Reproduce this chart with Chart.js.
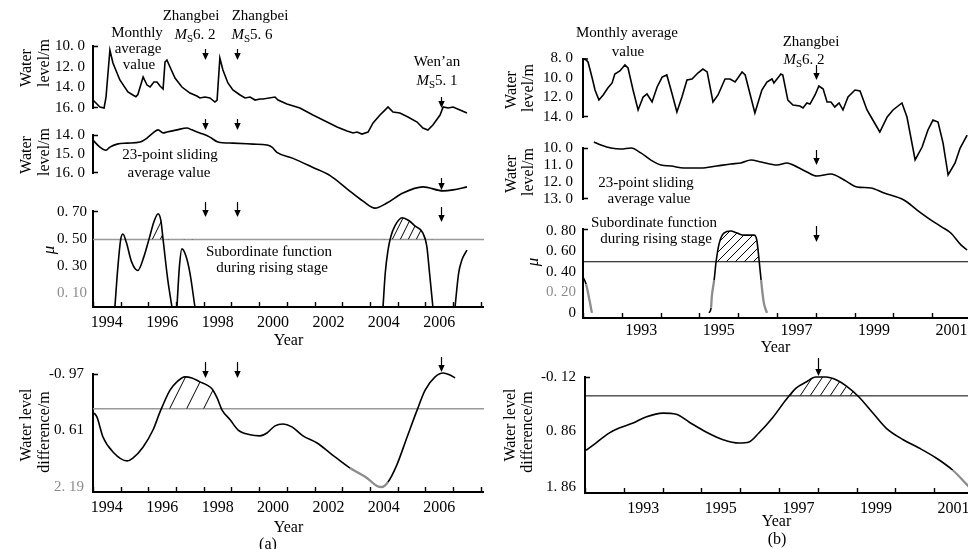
<!DOCTYPE html>
<html>
<head>
<meta charset="utf-8">
<script src="https://cdn.jsdelivr.net/npm/chart.js@4.4.0/dist/chart.umd.min.js"></script>
<style>
    html, body { margin: 0; padding: 0; background: #fff; }
    #page { position: relative; width: 968px; height: 549px; overflow: hidden; background: #fff; }
    #page canvas { position: absolute; top: 0; }
</style>
</head>
<body>
<div id="page">
    <canvas id="a1" width="484" height="549" style="left:0"></canvas>
    <canvas id="a2" width="484" height="549" style="left:0"></canvas>
    <canvas id="a3" width="484" height="549" style="left:0"></canvas>
    <canvas id="a4" width="484" height="549" style="left:0"></canvas>
    <canvas id="b1" width="484" height="549" style="left:484px"></canvas>
    <canvas id="b2" width="484" height="549" style="left:484px"></canvas>
    <canvas id="b3" width="484" height="549" style="left:484px"></canvas>
    <canvas id="b4" width="484" height="549" style="left:484px"></canvas>
</div>
<script>
// ---- data: [year, value] ----

// (a) monthly average water level (m)
const monthlyA = [
    [1994.00, 15.23], [1994.25, 15.90], [1994.40, 16.00], [1994.47, 14.94], [1994.61, 10.39],
    [1994.72, 11.65], [1994.97, 13.29], [1995.26, 14.45], [1995.44, 14.74], [1995.55, 14.90],
    [1995.62, 14.70], [1995.81, 13.00], [1995.95, 13.78], [1996.06, 13.97], [1996.20, 13.48],
    [1996.31, 13.48], [1996.42, 13.87], [1996.53, 14.16], [1996.60, 11.55], [1996.67, 11.36],
    [1996.78, 12.03], [1996.96, 13.10], [1997.21, 13.97], [1997.50, 14.55], [1997.75, 14.84],
    [1997.86, 15.03], [1998.04, 14.94], [1998.22, 15.03], [1998.40, 15.42], [1998.48, 15.23],
    [1998.58, 11.16], [1998.69, 12.32], [1998.87, 13.58], [1999.05, 14.26], [1999.31, 14.74],
    [1999.49, 15.03], [1999.67, 14.94], [1999.85, 15.23], [2000.03, 15.13], [2000.14, 15.13],
    [2000.57, 14.94], [2000.68, 15.23], [2001.00, 15.61], [2001.47, 16.00], [2001.94, 16.68],
    [2002.45, 17.36], [2002.81, 17.84], [2003.17, 18.23], [2003.39, 18.42], [2003.53, 18.33],
    [2003.71, 18.52], [2003.93, 18.33], [2004.11, 17.45], [2004.36, 16.68], [2004.54, 16.20],
    [2004.65, 15.90], [2004.83, 16.39], [2005.08, 16.49], [2005.37, 16.87], [2005.70, 17.36],
    [2005.91, 17.94], [2006.09, 18.13], [2006.27, 17.65], [2006.53, 16.68], [2006.64, 15.90],
    [2006.82, 16.00], [2007.00, 15.90], [2007.25, 16.20], [2007.50, 16.49]
];

// (a) 23-point sliding average (m)
const slidingA = [
    [1994.00, 14.27], [1994.25, 14.64], [1994.47, 14.80], [1994.61, 14.64], [1994.87, 14.48],
    [1995.23, 14.43], [1995.70, 14.37], [1995.95, 14.16], [1996.17, 13.89], [1996.35, 13.73],
    [1996.53, 13.89], [1996.67, 13.84], [1997.03, 13.73], [1997.39, 13.63], [1997.57, 13.73],
    [1997.86, 13.89], [1998.22, 14.11], [1998.51, 14.37], [1999.05, 14.43], [1999.78, 14.48],
    [2000.28, 14.53], [2000.46, 14.64], [2000.64, 14.91], [2001.22, 15.23], [2001.94, 15.71],
    [2002.56, 16.14], [2003.17, 16.83], [2003.75, 17.48], [2004.18, 17.85], [2004.61, 17.58],
    [2005.19, 17.05], [2005.91, 16.73], [2006.64, 16.94], [2007.00, 16.89], [2007.50, 16.73]
];

// (a) subordinate function during rising stage
const muA = [
    [1994.79, 0], [1994.90, 0.30], [1995.00, 0.50], [1995.08, 0.54], [1995.20, 0.48],
    [1995.40, 0.33], [1995.62, 0.27], [1995.85, 0.38], [1996.02, 0.50], [1996.20, 0.63],
    [1996.35, 0.69], [1996.45, 0.64], [1996.53, 0.50], [1996.70, 0.20], [1996.85, 0],
    [1996.94, null],
    [1997.03, 0], [1997.12, 0.30], [1997.21, 0.43], [1997.35, 0.38], [1997.50, 0.25], [1997.68, 0],
    [2000.00, null],
    [2004.47, 0], [2004.55, 0.25], [2004.65, 0.42], [2004.75, 0.52], [2004.90, 0.60],
    [2005.16, 0.66], [2005.40, 0.64], [2005.62, 0.60], [2005.90, 0.55], [2006.05, 0.45],
    [2006.15, 0.25], [2006.27, 0],
    [2006.60, null],
    [2007.07, 0], [2007.20, 0.25], [2007.32, 0.35], [2007.50, 0.42]
];

// (a) water level difference (m)
const diffA = [
    [1994.04, 0.12], [1994.14, 0.23], [1994.36, 0.79], [1994.72, 1.21], [1995.23, 1.46],
    [1995.44, 1.38], [1995.81, 1.07], [1996.17, 0.59], [1996.42, 0.09], [1996.78, -0.52],
    [1997.03, -0.75], [1997.32, -0.89], [1997.57, -0.86], [1997.86, -0.75], [1998.12, -0.66],
    [1998.30, -0.55], [1998.48, -0.30], [1998.66, 0.04], [1998.95, 0.31], [1999.23, 0.59],
    [1999.67, 0.73], [2000.03, 0.76], [2000.28, 0.68], [2000.57, 0.48], [2000.86, 0.43],
    [2001.18, 0.51], [2001.58, 0.76], [2002.09, 0.96], [2002.56, 1.24], [2003.28, 1.66],
    [2003.89, 1.94], [2004.25, 2.16], [2004.43, 2.19], [2004.65, 2.05], [2004.97, 1.57],
    [2005.34, 0.79], [2005.70, 0.04], [2005.99, -0.52], [2006.35, -0.89], [2006.64, -1.00],
    [2006.89, -0.94], [2007.07, -0.86]
];

// (b) monthly average water level (m)
const monthlyB = [
    [1992.00, 8.15], [1992.05, 8.05], [1992.13, 8.36], [1992.23, 9.90], [1992.31, 11.23],
    [1992.41, 12.26], [1992.52, 11.74], [1992.64, 11.03], [1992.75, 10.51], [1992.82, 9.59],
    [1992.95, 9.28], [1993.08, 8.67], [1993.16, 8.97], [1993.29, 11.23], [1993.42, 13.28],
    [1993.55, 11.95], [1993.65, 11.64], [1993.78, 12.46], [1993.91, 10.92], [1994.04, 9.90],
    [1994.16, 9.69], [1994.29, 11.54], [1994.42, 13.49], [1994.55, 11.95], [1994.68, 10.21],
    [1994.81, 10.10], [1994.96, 9.49], [1995.09, 9.08], [1995.20, 9.38], [1995.35, 12.46],
    [1995.48, 11.74], [1995.66, 10.10], [1995.79, 10.10], [1995.92, 10.41], [1996.10, 9.38],
    [1996.18, 9.69], [1996.43, 13.59], [1996.61, 11.23], [1996.74, 10.41], [1996.87, 10.10],
    [1996.92, 10.51], [1997.10, 9.59], [1997.15, 9.69], [1997.28, 12.26], [1997.41, 12.77],
    [1997.59, 12.87], [1997.67, 13.08], [1997.77, 12.56], [1997.85, 12.67], [1997.98, 11.74],
    [1998.08, 10.82], [1998.19, 11.13], [1998.29, 12.46], [1998.39, 12.46], [1998.49, 12.97],
    [1998.60, 12.56], [1998.70, 13.28], [1998.83, 11.95], [1999.01, 11.23], [1999.14, 11.33],
    [1999.32, 13.28], [1999.47, 14.31], [1999.65, 15.54], [1999.84, 14.00], [1999.99, 13.28],
    [2000.22, 12.56], [2000.35, 14.00], [2000.56, 18.40], [2000.74, 17.08], [2000.89, 15.33],
    [2001.02, 14.31], [2001.15, 14.51], [2001.28, 16.67], [2001.41, 19.95], [2001.59, 18.72],
    [2001.72, 17.18], [2001.90, 15.85]
];

// (b) 23-point sliding average (m)
const slidingB = [
    [1992.28, 9.65], [1992.46, 9.82], [1992.72, 10.00], [1992.98, 10.06], [1993.24, 10.00],
    [1993.49, 10.29], [1993.75, 10.71], [1994.01, 11.00], [1994.27, 11.06], [1994.60, 11.18],
    [1995.04, 11.18], [1995.45, 11.06], [1995.81, 10.94], [1996.07, 10.88], [1996.33, 10.71],
    [1996.59, 10.82], [1997.00, 11.00], [1997.26, 10.88], [1997.52, 11.12], [1997.77, 11.41],
    [1998.03, 11.65], [1998.39, 11.53], [1998.73, 11.88], [1999.06, 12.29], [1999.42, 12.35],
    [1999.76, 12.65], [2000.27, 13.06], [2000.61, 13.65], [2000.97, 14.24], [2001.25, 14.65],
    [2001.48, 15.00], [2001.74, 15.70], [2001.90, 16.00]
];

// (b) subordinate function during rising stage
const muB = [
    [1992.00, 0.35], [1992.08, 0.28], [1992.23, 0],
    [1993.50, null],
    [1995.25, 0], [1995.30, 0.05], [1995.32, 0.16], [1995.38, 0.32], [1995.43, 0.50],
    [1995.51, 0.68], [1995.63, 0.78], [1995.81, 0.80], [1995.97, 0.78], [1996.15, 0.76],
    [1996.41, 0.76], [1996.48, 0.71], [1996.54, 0.51], [1996.59, 0.32], [1996.66, 0.10],
    [1996.74, 0]
];

// (b) water level difference (m)
const diffB = [
    [1992.03, 1.20], [1992.28, 1.07], [1992.62, 0.89], [1992.88, 0.80], [1993.24, 0.71],
    [1993.57, 0.60], [1994.01, 0.53], [1994.35, 0.55], [1994.68, 0.69], [1995.12, 0.87],
    [1995.56, 1.01], [1995.97, 1.07], [1996.23, 1.05], [1996.48, 0.89], [1996.85, 0.60],
    [1997.18, 0.29], [1997.44, 0.08], [1997.70, -0.03], [1997.95, -0.12], [1998.21, -0.12],
    [1998.47, -0.07], [1998.73, 0.04], [1999.06, 0.24], [1999.42, 0.53], [1999.76, 0.80],
    [2000.20, 1.01], [2000.61, 1.16], [2001.05, 1.34], [2001.48, 1.56], [2001.90, 1.86]
];

// earthquakes (decimal year)
const eventsA = [1998.04, 1999.20, 2006.56];
const eventsB = [1998.00];

// axis labels / ticks
const yearLabelsA = [1994, 1996, 1998, 2000, 2002, 2004, 2006];
const yearLabelsB = [1993, 1995, 1997, 1999, 2001];
const ticksMonthlyA = [10, 12, 14, 16];
const ticksSlidingA = [14, 15, 16];
const ticksMuA = [0.1, 0.3, 0.5, 0.7];
const ticksDiffA = [-0.97, 0.61, 2.19];
const ticksMonthlyB = [8, 10, 12, 14];
const ticksSlidingB = [10, 11, 12, 13];
const ticksMuB = [0, 0.2, 0.4, 0.6, 0.8];
const ticksDiffB = [-0.12, 0.86, 1.86];
const muThreshold = 0.5;
const diffThresholdA = 0;
const diffThresholdB = 0.22;
// stretches that the original hatches
const hatchSpanMuA = [1995.9, 2007.0];
const hatchSpanDiffA = [1996.0, 1999.0];
const hatchSpanMuB = [1995.0, 1997.0];
const hatchSpanDiffB = [1997.0, 1999.5];

// ---- drawing ----
const FONT = '"Liberation Serif", "DejaVu Serif", serif';
const GRAY = '#8c8c8c';
const LINE_W = 1.6;
Chart.defaults.font.family = FONT;
Chart.defaults.color = '#000';

function fmt(v, d) {
    if (v === 0) return '0';
    return v.toFixed(d).replace('.', '. ');
}

function toXY(rows) {
    return rows.map(r => ({ x: r[0], y: r[1] }));
}

function hatch(ctx, w, h) {
    const c = document.createElement('canvas');
    c.width = w;
    c.height = h;
    const g = c.getContext('2d');
    g.strokeStyle = '#000';
    g.lineWidth = 1;
    g.beginPath();
    g.moveTo(0, h); g.lineTo(w, 0);
    g.moveTo(-w, h); g.lineTo(0, 0);
    g.moveTo(w, h); g.lineTo(2 * w, 0);
    g.stroke();
    return ctx.createPattern(c, 'repeat');
}

function drawRuns(ctx, item) {
    const size = item.size || 15;
    const runs = item.runs || [{ s: item.t, italic: item.italic }];
    const parts = runs.map(r => {
        const fs = r.sub ? Math.round(size * 0.72) : size;
        const font = (r.italic ? 'italic ' : '') + fs + 'px ' + FONT;
        ctx.font = font;
        return { s: r.s, font, w: ctx.measureText(r.s).width, dy: r.sub ? size * 0.3 : 0 };
    });
    const total = parts.reduce((a, p) => a + p.w, 0);
    ctx.save();
    ctx.translate(item.x, item.y);
    if (item.rot) ctx.rotate(item.rot);
    ctx.textAlign = 'left';
    ctx.textBaseline = 'middle';
    ctx.fillStyle = item.color || '#000';
    let x = -total / 2;
    parts.forEach(p => {
        ctx.font = p.font;
        ctx.fillText(p.s, x, p.dy);
        x += p.w;
    });
    ctx.restore();
}

function drawArrow(ctx, x, y1, y2) {
    x = Math.round(x) + 0.5;
    ctx.lineWidth = 1.2;
    ctx.beginPath();
    ctx.moveTo(x, y1);
    ctx.lineTo(x, y2 - 4);
    ctx.stroke();
    ctx.beginPath();
    ctx.moveTo(x - 3.2, y2 - 7);
    ctx.lineTo(x + 3.2, y2 - 7);
    ctx.lineTo(x, y2);
    ctx.closePath();
    ctx.fill();
}

const notesPlugin = {
    id: 'notes',
    afterDraw(chart, args, opts) {
        const ctx = chart.ctx;
        const area = chart.chartArea;
        const xs = chart.scales.x;
        ctx.save();
        ctx.strokeStyle = '#000';
        ctx.fillStyle = '#000';

        // "[" shaped ends of the value axis
        ctx.lineWidth = 1.5;
        ctx.beginPath();
        ctx.moveTo(area.left, area.top + 0.5);
        ctx.lineTo(area.left + 5, area.top + 0.5);
        if (opts.bracketBottom) {
            ctx.moveTo(area.left, area.bottom - 0.5);
            ctx.lineTo(area.left + 5, area.bottom - 0.5);
        }
        ctx.stroke();

        // year tick marks pointing up from the time axis
        if (opts.yearTicks) {
            ctx.lineWidth = 1.4;
            ctx.beginPath();
            for (let y = Math.ceil(xs.min); y <= xs.max; y++) {
                const px = Math.round(xs.getPixelForValue(y)) + 0.5;
                ctx.moveTo(px, area.bottom);
                ctx.lineTo(px, area.bottom - 5);
            }
            ctx.stroke();
        }

        (opts.texts || []).forEach(t => drawRuns(ctx, t));
        (opts.arrows || []).forEach((a, i) => {
            drawArrow(ctx, xs.getPixelForValue(opts.events[i]), a[0], a[1]);
        });
        ctx.restore();
    }
};

function ms(num, x, y) {
    return { runs: [{ s: 'M', italic: true }, { s: 'S', sub: true }, { s: num }], x, y };
}

function panel(id, p) {
    const canvas = document.getElementById(id);
    const ctx = canvas.getContext('2d');
    const showX = !!p.showX;
    const xh = showX ? p.xHeight : 0;
    const main = {
        data: toXY(p.data),
        borderColor: '#000',
        borderWidth: LINE_W,
        pointRadius: 0,
        tension: p.smooth ? 0.4 : 0,
        cubicInterpolationMode: p.smooth ? 'monotone' : 'default',
        spanGaps: false,
        clip: false,
        fill: false
    };
    if (p.fade) {
        main.segment = {
            borderColor: c => p.fade(c.p0.parsed.y, c.p1.parsed.y) ? GRAY : '#000',
            borderWidth: c => p.fade(c.p0.parsed.y, c.p1.parsed.y) ? 2.3 : LINE_W
        };
    }
    const datasets = [];
    if (p.threshold !== undefined) {
        // hatched area between the curve and the threshold, only over the marked stretch
        const span = p.hatchSpan;
        datasets.push({
            data: toXY(p.data.filter(r => r[0] >= span[0] && r[0] <= span[1])),
            borderWidth: 0,
            borderColor: 'rgba(0,0,0,0)',
            pointRadius: 0,
            tension: 0.4,
            cubicInterpolationMode: 'monotone',
            spanGaps: false,
            fill: { target: { value: p.threshold }, above: hatch(ctx, p.hatch[0], p.hatch[1]), below: 'rgba(0,0,0,0)' }
        });
    }
    datasets.push(main);
    if (p.threshold !== undefined) {
        datasets.push({
            data: [{ x: p.xMin, y: p.threshold }, { x: p.xMax, y: p.threshold }],
            borderColor: p.thrColor,
            borderWidth: p.thrWidth,
            pointRadius: 0,
            fill: false,
            clip: false
        });
    }

    new Chart(ctx, {
        type: 'line',
        data: { datasets },
        options: {
            responsive: false,
            animation: false,
            events: [],
            layout: {
                padding: { left: 0, top: p.top, right: canvas.width - 484, bottom: canvas.height - p.bottom - xh }
            },
            plugins: {
                legend: { display: false },
                tooltip: { enabled: false },
                notes: {
                    texts: p.texts,
                    arrows: p.arrows,
                    events: p.events,
                    yearTicks: showX,
                    bracketBottom: !showX
                }
            },
            scales: {
                x: {
                    type: 'linear',
                    min: p.xMin,
                    max: p.xMax,
                    display: showX,
                    afterBuildTicks: s => { s.ticks = p.xLabels.map(v => ({ value: v + 0.5 })); },
                    afterFit: s => { s.height = xh; s.paddingLeft = 0; s.paddingRight = 0; },
                    grid: { display: false, drawTicks: false },
                    border: { display: showX, color: '#000', width: 2 },
                    ticks: {
                        autoSkip: false,
                        maxRotation: 0,
                        padding: p.xPad || 0,
                        font: { size: 16 },
                        color: '#000',
                        callback: v => String(Math.round(v - 0.5))
                    },
                    title: { display: showX, text: 'Year', font: { size: 16 }, color: '#000', padding: 0 }
                },
                y: {
                    type: 'linear',
                    min: p.yMin,
                    max: p.yMax,
                    reverse: !!p.reverse,
                    afterBuildTicks: s => { s.ticks = p.yTicks.map(v => ({ value: v })); },
                    afterFit: s => { s.width = p.left; s.paddingTop = 0; s.paddingBottom = 0; },
                    grid: { display: false, drawTicks: false },
                    border: { display: true, color: '#000', width: 2 },
                    ticks: {
                        autoSkip: false,
                        padding: p.yPad,
                        font: { size: 15 },
                        color: c => (p.grayTick !== undefined && c.tick && c.tick.value === p.grayTick) ? GRAY : '#000',
                        callback: v => fmt(v, p.yDec)
                    }
                }
            }
        },
        plugins: [notesPlugin]
    });
}

const PX_A = 27.7;   // pixels per year, panel (a)
const PX_B = 38.8;   // pixels per year, panel (b)
const ROT = -Math.PI / 2;
const xMaxA = 1994 + (484 - 93) / PX_A;
const xMaxB = 1992 + (484 - 99) / PX_B;
const xMaxB4 = 1992 + (484 - 101) / PX_B;

panel('a1', {
    data: monthlyA, left: 93, top: 46, bottom: 108, xMin: 1994, xMax: xMaxA, xLabels: yearLabelsA,
    yMin: 10, yMax: 16, reverse: true, yTicks: ticksMonthlyA, yDec: 1, yPad: 8,
    events: eventsA, arrows: [[49, 60], [49, 60], [97, 108]],
    texts: [
        { t: 'Water', x: 27, y: 68, rot: ROT, size: 16 },
        { t: 'level/m', x: 45, y: 63, rot: ROT, size: 16 },
        { t: 'Monthly', x: 137, y: 33 }, { t: 'average', x: 138, y: 49 }, { t: 'value', x: 139, y: 65 },
        { t: 'Zhangbei', x: 191, y: 16 }, ms('6. 2', 195, 35),
        { t: 'Zhangbei', x: 260, y: 16 }, ms('5. 6', 252, 35),
        { t: 'Wen\u2019an', x: 437, y: 62 }, ms('5. 1', 437, 81)
    ]
});

panel('a2', {
    data: slidingA, smooth: true, left: 93, top: 135, bottom: 173, xMin: 1994, xMax: xMaxA, xLabels: yearLabelsA,
    yMin: 14, yMax: 16, reverse: true, yTicks: ticksSlidingA, yDec: 1, yPad: 8,
    events: eventsA, arrows: [[119, 130], [119, 130], [178, 190]],
    texts: [
        { t: 'Water', x: 27, y: 155, rot: ROT, size: 16 },
        { t: 'level/m', x: 45, y: 152, rot: ROT, size: 16 },
        { t: '23-point sliding', x: 170, y: 155 }, { t: 'average value', x: 169, y: 173 }
    ]
});

panel('a3', {
    data: muA, smooth: true, left: 93, top: 211, bottom: 307, xMin: 1994, xMax: xMaxA, xLabels: yearLabelsA,
    showX: true, xHeight: 43, xPad: 6,
    yMin: 0, yMax: 0.71, yTicks: ticksMuA, yDec: 2, yPad: 6, grayTick: 0.1,
    threshold: muThreshold, thrColor: '#999', thrWidth: 1.5, hatch: [8, 16], hatchSpan: hatchSpanMuA,
    fade: (a, b) => a < 0.2 && b < 0.2,
    events: eventsA, arrows: [[202, 217], [202, 217], [207, 222]],
    texts: [
        { t: '\u03bc', x: 50, y: 250, rot: ROT, size: 17, italic: true },
        { t: 'Subordinate function', x: 269, y: 252 }, { t: 'during rising stage', x: 272, y: 268 }
    ]
});

panel('a4', {
    data: diffA, smooth: true, left: 93, top: 374, bottom: 492, xMin: 1994, xMax: xMaxA, xLabels: yearLabelsA,
    showX: true, xHeight: 45, xPad: 6,
    yMin: -0.97, yMax: 2.33, reverse: true, yTicks: ticksDiffA, yDec: 2, yPad: 9, grayTick: 2.19,
    threshold: diffThresholdA, thrColor: '#999', thrWidth: 1.5, hatch: [17, 34], hatchSpan: hatchSpanDiffA,
    fade: (a, b) => a > 1.6 && b > 1.6,
    events: eventsA, arrows: [[362, 378], [362, 378], [357, 372]],
    texts: [
        { t: 'Water level', x: 27, y: 425, rot: ROT, size: 16 },
        { t: 'difference/m', x: 45, y: 432, rot: ROT, size: 16 },
        { t: '(a)', x: 268, y: 545, size: 16 }
    ]
});

panel('b1', {
    data: monthlyB, left: 99, top: 58.5, bottom: 117, xMin: 1992, xMax: xMaxB, xLabels: yearLabelsB,
    yMin: 8, yMax: 14, reverse: true, yTicks: ticksMonthlyB, yDec: 1, yPad: 10,
    events: eventsB, arrows: [[65, 80]],
    texts: [
        { t: 'Water', x: 28, y: 90, rot: ROT, size: 16 },
        { t: 'level/m', x: 45, y: 88, rot: ROT, size: 16 },
        { t: 'Monthly average', x: 143, y: 33 }, { t: 'value', x: 144, y: 52 },
        { t: 'Zhangbei', x: 327, y: 42 }, ms('6. 2', 320, 60)
    ]
});

panel('b2', {
    data: slidingB, smooth: true, left: 99, top: 148, bottom: 199, xMin: 1992, xMax: xMaxB, xLabels: yearLabelsB,
    yMin: 10, yMax: 13, reverse: true, yTicks: ticksSlidingB, yDec: 1, yPad: 10,
    events: eventsB, arrows: [[150, 165]],
    texts: [
        { t: 'Water', x: 28, y: 174, rot: ROT, size: 16 },
        { t: 'level/m', x: 45, y: 172, rot: ROT, size: 16 },
        { t: '23-point sliding', x: 162, y: 183 }, { t: 'average value', x: 165, y: 199 }
    ]
});

panel('b3', {
    data: muB, smooth: true, left: 99, top: 229, bottom: 318, xMin: 1992, xMax: xMaxB, xLabels: yearLabelsB,
    showX: true, xHeight: 39, xPad: 3,
    yMin: -0.05, yMax: 0.82, yTicks: ticksMuB, yDec: 2, yPad: 7, grayTick: 0.2,
    threshold: muThreshold, thrColor: '#000', thrWidth: 1, hatch: [9, 9], hatchSpan: hatchSpanMuB,
    fade: (a, b) => a < 0.33 && b < 0.33 && (a > 0.06 || b > 0.06),
    events: eventsB, arrows: [[226, 242]],
    texts: [
        { t: '\u03bc', x: 50, y: 262, rot: ROT, size: 17, italic: true },
        { t: 'Subordinate function', x: 170, y: 223 }, { t: 'during rising stage', x: 172, y: 239 }
    ]
});

panel('b4', {
    data: diffB, smooth: true, left: 101, top: 377, bottom: 493, xMin: 1992, xMax: xMaxB4, xLabels: yearLabelsB,
    showX: true, xHeight: 38, xPad: 6,
    yMin: -0.12, yMax: 1.97, reverse: true, yTicks: ticksDiffB, yDec: 2, yPad: 9,
    threshold: diffThresholdB, thrColor: '#000', thrWidth: 1, hatch: [10, 15], hatchSpan: hatchSpanDiffB,
    fade: (a, b) => a > 1.5 && b > 1.5,
    events: eventsB, arrows: [[358, 376]],
    texts: [
        { t: 'Water level', x: 27, y: 425, rot: ROT, size: 16 },
        { t: 'difference/m', x: 44, y: 432, rot: ROT, size: 16 },
        { t: '(b)', x: 293, y: 540, size: 16 }
    ]
});
</script>
</body>
</html>
